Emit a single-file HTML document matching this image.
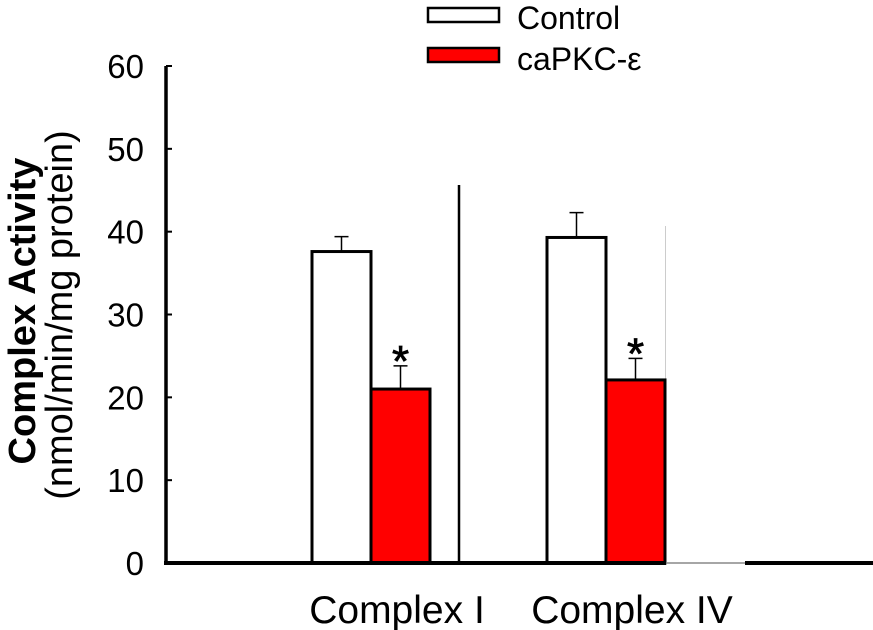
<!DOCTYPE html>
<html><head><meta charset="utf-8"><style>
html,body{margin:0;padding:0;background:#fff;}
svg{display:block;font-family:"Liberation Sans",sans-serif;}
</style></head><body>
<svg width="873" height="630" viewBox="0 0 873 630">
<g id="plot"></g>
</svg>
<script>
const categories = ["Complex I", "Complex IV"];
const controlValues = [37.6, 39.3];
const controlErrors = [1.8, 3.0];
const capkcValues = [21.0, 22.1];
const capkcErrors = [2.8, 2.6];
const yTicks = [0, 10, 20, 30, 40, 50, 60];

const NS = "http://www.w3.org/2000/svg";
const g = document.getElementById("plot");
const y0 = 563, yTop = 66, axisX = 166;
function yScale(v){ return y0 - (v/60)*(y0-yTop); }
const groupCenters = [371, 606];
const labelOffset = 26;
const barW = 59;
function xBar(ci, series){ return groupCenters[ci] + (series===0 ? -barW : 0); }
function el(tag, attrs, name, text){
  const e = document.createElementNS(NS, tag);
  for (const k in attrs) e.setAttribute(k, attrs[k]);
  
  
  if (text !== undefined) e.textContent = text;
  g.appendChild(e);
  return e;
}
el("line",{x1:459,y1:185,x2:459,y2:563,stroke:"#000","stroke-width":2.5},"divider-line");
el("line",{x1:665.5,y1:226,x2:665.5,y2:563,stroke:"#ccc","stroke-width":1},"divider-line-light");
categories.forEach((c,i)=>{
  const series = [[controlValues,controlErrors,"#fff","control"],[capkcValues,capkcErrors,"#ff0000","capkc"]];
  series.forEach((s,si)=>{
    const v=s[0][i], e=s[1][i], x=xBar(i,si), cx=x+barW/2;
    el("line",{x1:cx,y1:yScale(v),x2:cx,y2:yScale(v+e),stroke:"#000","stroke-width":1.5},"error-bar-"+s[3]+"-"+(i+1));
    el("line",{x1:cx-7,y1:yScale(v+e),x2:cx+7,y2:yScale(v+e),stroke:"#000","stroke-width":1.5},"error-cap-"+s[3]+"-"+(i+1));
    el("rect",{x:x,y:yScale(v),width:barW,height:y0-yScale(v),fill:s[2],stroke:"#000","stroke-width":3},"bar-"+s[3]+"-"+(i+1));
    if(si===1){
      el("text",{x:cx,y:yScale(v+e)+10,"text-anchor":"middle","font-size":44,stroke:"#000","stroke-width":0.8},"significance-star-"+(i+1),"*");
    }
  });
  el("text",{x:groupCenters[i]+labelOffset,y:623,"text-anchor":"middle","font-size":39},"x-label-"+(i+1),c);
});
el("line",{x1:axisX,y1:yTop,x2:axisX,y2:y0+2,stroke:"#000","stroke-width":3.5},"y-axis");
el("line",{x1:axisX-2,y1:y0,x2:666,y2:y0,stroke:"#000","stroke-width":4},"x-axis");
el("line",{x1:666,y1:y0,x2:745,y2:y0,stroke:"#888","stroke-width":1.5},"x-axis-thin");
el("line",{x1:745,y1:y0,x2:873,y2:y0,stroke:"#000","stroke-width":4},"x-axis-right");
yTicks.forEach(t=>{
  const y=yScale(t);
  el("line",{x1:axisX,y1:y,x2:axisX+6,y2:y,stroke:"#000","stroke-width":2},"y-tick-"+t);
  el("text",{x:144,y:y+12,"text-anchor":"end","font-size":33},"y-tick-label-"+t,String(t));
});
el("text",{x:0,y:0,"text-anchor":"middle","font-size":38,"font-weight":"bold",transform:"translate(35,311) rotate(-90)"},"y-axis-title","Complex Activity");
el("text",{x:0,y:0,"text-anchor":"middle","font-size":38,transform:"translate(72,315) rotate(-90)"},"y-axis-unit","(nmol/min/mg protein)");
el("rect",{x:428,y:8,width:71,height:14,fill:"#fff",stroke:"#000","stroke-width":2.5},"legend-swatch-control");
el("text",{x:517,y:29,"font-size":32},"legend-label-control","Control");
el("rect",{x:428,y:48,width:71,height:14,fill:"#ff0000",stroke:"#000","stroke-width":2.5},"legend-swatch-capkc");
el("text",{x:517,y:70,"font-size":32},"legend-label-capkc","caPKC-ε");
</script>
</body></html>
